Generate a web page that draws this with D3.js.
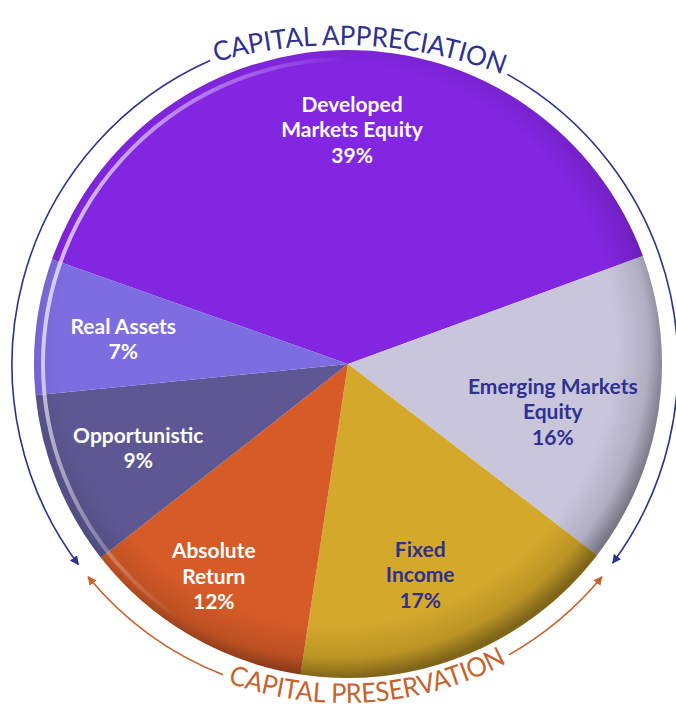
<!DOCTYPE html>
<html>
<head>
<meta charset="utf-8">
<script src="https://cdn.jsdelivr.net/npm/d3@7"></script>
<style>
  body { margin: 0; background: #fff; }
  svg { display: block; }
</style>
</head>
<body>
<div id="chart"></div>
<script>
// allocation data
var categories = ["Developed Markets Equity", "Emerging Markets Equity", "Fixed Income",
                  "Absolute Return", "Opportunistic", "Real Assets"];
var values = [39, 16, 17, 12, 9, 7];
var labelLines = [["Developed", "Markets Equity"], ["Emerging Markets", "Equity"], ["Fixed", "Income"],
                  ["Absolute", "Return"], ["Opportunistic"], ["Real Assets"]];
var colors = ["#8326e2", "#c9c6dc", "#d4a82a", "#d65b27", "#5d5893", "#7c6de0"];
var textColors = ["#fff", "#2e3190", "#2e3190", "#fff", "#fff", "#fff"];
var arcTitles = ["CAPITAL APPRECIATION", "CAPITAL PRESERVATION"];

// label placement tweaks (fraction of radius, angle nudge in degrees)
var labelRadius = [0.745, 0.67, 0.71, 0.80, 0.72, 0.72];
var labelShift = [1.3, 4.5, 3, 2, 0, -0.6];

var width = 676, height = 710;
var cx = 348, cy = 364, radius = 314;
var navy = "#2e3190", rust = "#c8622c";
var rad = Math.PI / 180;

var svg = d3.select("#chart").append("svg")
  .attr("width", width)
  .attr("height", height);

var defs = svg.append("defs");

var rim = defs.append("radialGradient").attr("id", "rim")
  .attr("cx", "48%").attr("cy", "47%").attr("r", "53%");
rim.append("stop").attr("offset", "0%").attr("stop-color", "#000").attr("stop-opacity", 0);
rim.append("stop").attr("offset", "84%").attr("stop-color", "#000").attr("stop-opacity", 0);
rim.append("stop").attr("offset", "94%").attr("stop-color", "#000").attr("stop-opacity", 0.12);
rim.append("stop").attr("offset", "100%").attr("stop-color", "#000").attr("stop-opacity", 0.4);

var shine = defs.append("linearGradient").attr("id", "shine")
  .attr("x1", "0").attr("y1", "0.2").attr("x2", "1").attr("y2", "0.5");
shine.append("stop").attr("offset", "0%").attr("stop-color", "#fff").attr("stop-opacity", 0.8);
shine.append("stop").attr("offset", "22%").attr("stop-color", "#fff").attr("stop-opacity", 0.35);
shine.append("stop").attr("offset", "40%").attr("stop-color", "#fff").attr("stop-opacity", 0);

function marker(id, color) {
  defs.append("marker")
    .attr("id", id)
    .attr("viewBox", "0 0 10 10")
    .attr("refX", 9).attr("refY", 5)
    .attr("markerWidth", 9).attr("markerHeight", 9)
    .attr("markerUnits", "userSpaceOnUse")
    .attr("orient", "auto")
    .append("path")
    .attr("d", "M0,0 L10,5 L0,10 Z")
    .attr("fill", color);
}
marker("arrNavy", navy);
marker("arrRust", rust);

// compass-angle arc helper (0 = north, clockwise)
function arcPath(x, y, r, a0, a1) {
  var p = d3.path();
  var t0 = (a0 - 90) * rad, t1 = (a1 - 90) * rad;
  p.moveTo(x + r * Math.cos(t0), y + r * Math.sin(t0));
  p.arc(x, y, r, t0, t1, a1 < a0);
  return p.toString();
}

// pie
var pie = d3.pie().sort(null).value(function(d) { return d; })
  .startAngle(-70.5 * rad).endAngle((360 - 70.5) * rad);
var arcs = pie(values);
var arc = d3.arc().innerRadius(0).outerRadius(radius);

var g = svg.append("g").attr("transform", "translate(" + cx + "," + cy + ")");

g.selectAll("path.slice")
  .data(arcs)
  .enter().append("path")
  .attr("class", "slice")
  .attr("d", arc)
  .attr("fill", function(d, i) { return colors[i]; });

g.append("circle").attr("r", radius).attr("fill", "url(#rim)");
g.append("circle").attr("r", radius - 9)
  .attr("fill", "none")
  .attr("stroke", "url(#shine)")
  .attr("stroke-width", 4);

// slice labels
var lineH = 25.5;
var labels = g.selectAll("text.lbl")
  .data(arcs)
  .enter().append("text")
  .attr("class", "lbl")
  .attr("text-anchor", "middle")
  .attr("font-family", "Lato, 'Open Sans', sans-serif")
  .attr("font-weight", "bold")
  .attr("font-size", 21)
  .attr("fill", function(d, i) { return textColors[i]; })
  .attr("transform", function(d, i) {
    var a = (d.startAngle + d.endAngle) / 2 + labelShift[i] * rad;
    var r = labelRadius[i] * radius;
    return "translate(" + (r * Math.sin(a)) + "," + (-r * Math.cos(a)) + ")";
  });

labels.each(function(d, i) {
  var lines = labelLines[i].concat([values[i] + "%"]);
  var sel = d3.select(this);
  var top = -(lines.length - 1) / 2 * lineH;
  lines.forEach(function(t, k) {
    sel.append("tspan")
      .attr("x", 0)
      .attr("y", top + k * lineH)
      .attr("dy", "0.35em")
      .text(t);
  });
});

// bracket arcs around the pie
var ax = 345, ay = 365, ar = 333;
var brackets = [
  { a0: -23.9, a1: -126.8, color: navy, mk: "arrNavy" },
  { a0: 29.2, a1: 126.5, color: navy, mk: "arrNavy" },
  { a0: 201.5, a1: 230.5, color: rust, mk: "arrRust" },
  { a0: 150.5, a1: 129.5, color: rust, mk: "arrRust" }
];
svg.selectAll("path.bracket")
  .data(brackets)
  .enter().append("path")
  .attr("class", "bracket")
  .attr("d", function(d) { return arcPath(ax, ay, ar, d.a0, d.a1); })
  .attr("fill", "none")
  .attr("stroke", function(d) { return d.color; })
  .attr("stroke-width", 1.6)
  .attr("marker-end", function(d) { return "url(#" + d.mk + ")"; });

// curved titles
defs.append("path").attr("id", "topArc").attr("d", arcPath(340, 507, 462, -25, 30));
defs.append("path").attr("id", "botArc").attr("d", arcPath(345, 354, 349, 206, 146));

var titleSpecs = [
  { href: "#topArc", color: navy, len: 292 },
  { href: "#botArc", color: rust, len: 288 }
];
titleSpecs.forEach(function(s, i) {
  svg.append("text")
    .attr("font-family", "Lato, 'Open Sans', sans-serif")
    .attr("font-size", 27)
    .attr("fill", s.color)
    .append("textPath")
    .attr("href", s.href)
    .attr("startOffset", "50%")
    .attr("text-anchor", "middle")
    .attr("textLength", s.len)
    .attr("lengthAdjust", "spacingAndGlyphs")
    .text(arcTitles[i]);
});
</script>
</body>
</html>
